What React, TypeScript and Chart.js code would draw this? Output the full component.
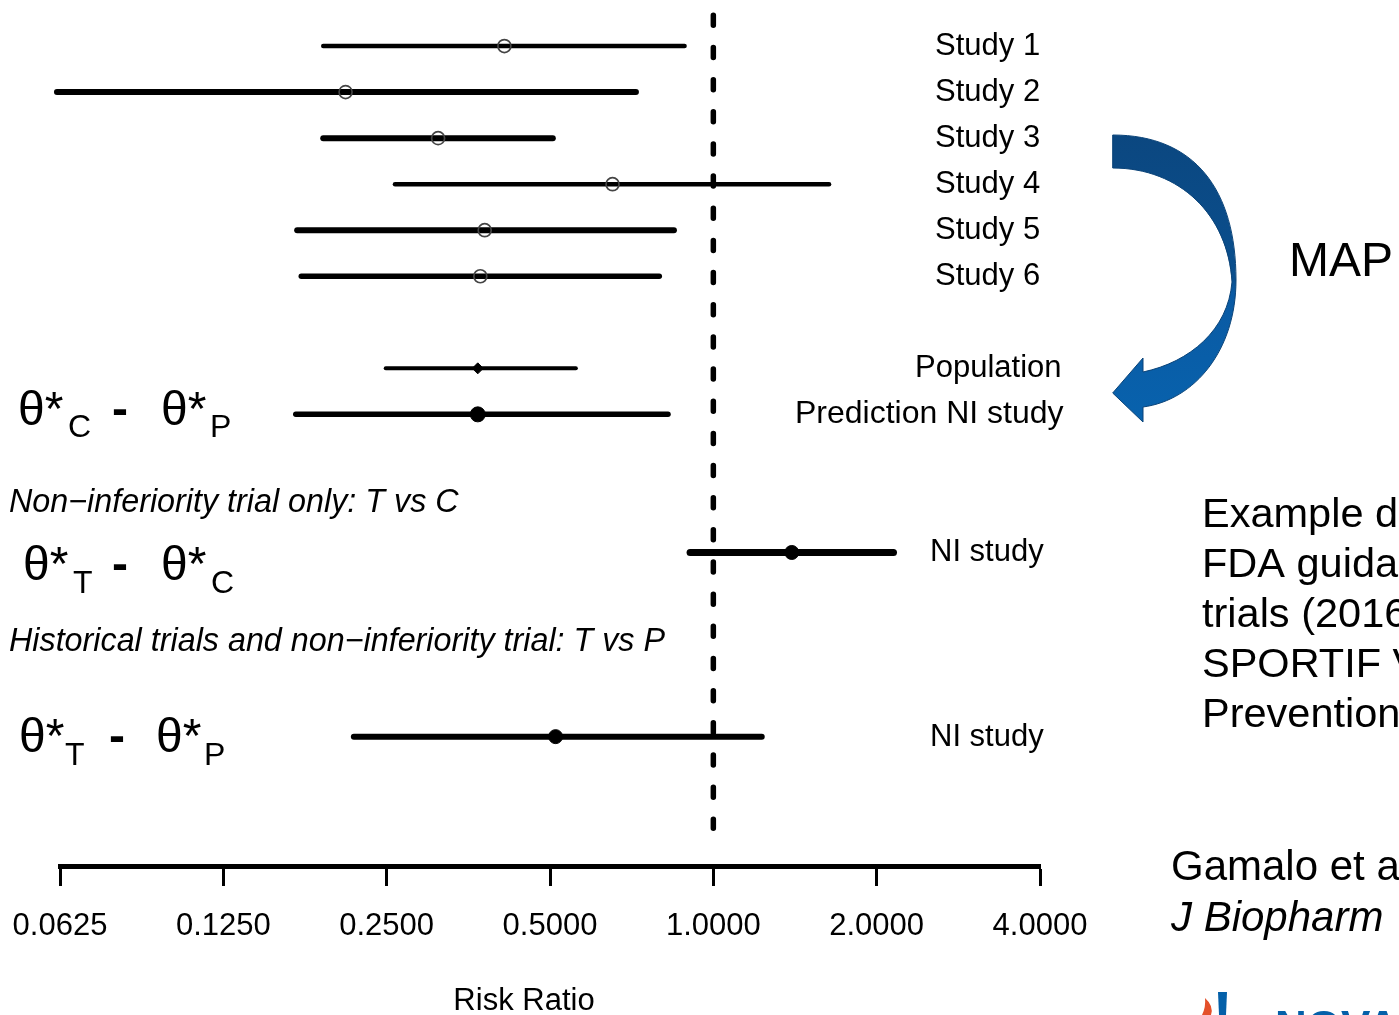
import { useEffect, useRef } from 'react';
import { Chart, registerables } from 'chart.js';

Chart.register(...registerables);

// ---------------- data ----------------
const LABELS = ['Study 1', 'Study 2', 'Study 3', 'Study 4', 'Study 5', 'Study 6', 'Population', 'Prediction NI study', 'NI study', 'NI study'];
const ROWS = [1, 2, 3, 4, 5, 6, 8, 9, 12, 16];
const ESTIMATE = [0.412, 0.21, 0.311, 0.652, 0.379, 0.372, 0.368, 0.368, 1.395, 0.512];
const LOWER = [0.191, 0.0617, 0.191, 0.259, 0.171, 0.174, 0.249, 0.17, 0.906, 0.2175];
const UPPER = [0.885, 0.72, 0.506, 1.634, 0.846, 0.795, 0.558, 0.825, 2.148, 1.228];
const X_TICKS = [0.0625, 0.125, 0.25, 0.5, 1, 2, 4];
const REFERENCE_RR = 1;
const REF_LINE_ROWS = [0.332, 17.99];

// ---------------- styles ----------------
const FONT = '"Liberation Sans", Arial, sans-serif';
const LINE_WIDTHS = [4.5, 6, 6, 4.5, 6, 5.5, 4, 5.5, 7, 6];
const MARKER_STYLES = ['circle', 'circle', 'circle', 'circle', 'circle', 'circle', 'rectRot', 'circle', 'circle', 'circle'];
const MARKER_RADII = [6.5, 6.5, 6.5, 6.5, 6.5, 6.5, 5.5, 7.5, 7, 7];
const MARKER_FILLS = ['rgba(0,0,0,0)', 'rgba(0,0,0,0)', 'rgba(0,0,0,0)', 'rgba(0,0,0,0)', 'rgba(0,0,0,0)', 'rgba(0,0,0,0)', '#000', '#000', '#000', '#000'];
const MARKER_BORDERS = ['#444', '#444', '#444', '#444', '#444', '#444', '#000', '#000', '#000', '#000'];
const MARKER_BORDER_WIDTHS = [1.7, 1.7, 1.7, 1.7, 1.7, 1.7, 1, 1, 1, 1];
const LABEL_X = [935, 935, 935, 935, 935, 935, 915, 795, 930, 930];
const LABEL_SIZES = [31, 31, 31, 31, 31, 31, 31, 32, 31, 31];
const LABEL_DY = 9;

type Part = { t: string; x: number; y: number; s: number; b?: boolean };
const EXPRESSIONS: Part[][] = [
  [
    { t: 'θ*', x: 18, y: 425, s: 48 },
    { t: 'C', x: 68, y: 437, s: 32 },
    { t: '-', x: 112, y: 425, s: 48, b: true },
    { t: 'θ*', x: 161, y: 425, s: 48 },
    { t: 'P', x: 210, y: 437, s: 32 },
  ],
  [
    { t: 'θ*', x: 23, y: 580, s: 48 },
    { t: 'T', x: 73, y: 593, s: 32 },
    { t: '-', x: 112, y: 580, s: 48, b: true },
    { t: 'θ*', x: 161, y: 580, s: 48 },
    { t: 'C', x: 211, y: 593, s: 32 },
  ],
  [
    { t: 'θ*', x: 19, y: 752, s: 48 },
    { t: 'T', x: 65, y: 765, s: 32 },
    { t: '-', x: 109, y: 752, s: 48, b: true },
    { t: 'θ*', x: 156, y: 752, s: 48 },
    { t: 'P', x: 204, y: 765, s: 32 },
  ],
];

const HEADINGS = [
  { t: 'Non\u2212inferiority trial only: T vs C', x: 9, y: 512 },
  { t: 'Historical trials and non\u2212inferiority trial: T vs P', x: 9, y: 651 },
];

const NOTE_LINES = ['Example drawn from', 'FDA guidance on NI', 'trials (2016):', 'SPORTIF V', 'Prevention of stroke'];

const overlayPlugin = {
  id: 'overlay',
  afterDraw(chart: any) {
    const ctx: CanvasRenderingContext2D = chart.ctx;
    const ys = chart.scales.y;
    ctx.save();
    ctx.fillStyle = '#000';
    ctx.textBaseline = 'alphabetic';
    ctx.textAlign = 'left';

    // row labels
    LABELS.forEach((lab, i) => {
      ctx.font = `${LABEL_SIZES[i]}px ${FONT}`;
      ctx.fillText(lab, LABEL_X[i], ys.getPixelForValue(ROWS[i]) + LABEL_DY);
    });

    // theta expressions
    EXPRESSIONS.forEach((parts) => {
      parts.forEach((p) => {
        ctx.font = `${p.b ? 'bold ' : ''}${p.s}px ${FONT}`;
        ctx.fillText(p.t, p.x, p.y);
      });
    });

    // italic headings
    ctx.font = `italic 32.3px ${FONT}`;
    HEADINGS.forEach((h) => ctx.fillText(h.t, h.x, h.y));

    // axis title
    ctx.font = `31px ${FONT}`;
    ctx.textAlign = 'center';
    ctx.fillText('Risk Ratio', 524, 1010);
    ctx.textAlign = 'left';

    // curved arrow
    const grad = ctx.createLinearGradient(0, 135, 0, 422);
    grad.addColorStop(0, '#0b4780');
    grad.addColorStop(0.5, '#0a4f8e');
    grad.addColorStop(0.55, '#0a5aa3');
    grad.addColorStop(1, '#0862ad');
    ctx.beginPath();
    ctx.moveTo(1112.7, 135);
    ctx.bezierCurveTo(1195, 135, 1236, 190, 1236, 280);
    ctx.bezierCurveTo(1236, 350, 1195, 400, 1143, 407);
    ctx.lineTo(1143, 422);
    ctx.lineTo(1112.7, 393);
    ctx.lineTo(1143, 358);
    ctx.lineTo(1143, 372);
    ctx.bezierCurveTo(1190, 362, 1228, 330, 1232, 282);
    ctx.bezierCurveTo(1228, 215, 1180, 168, 1112.7, 168);
    ctx.closePath();
    ctx.fillStyle = grad;
    ctx.fill();
    ctx.strokeStyle = '#0a4378';
    ctx.lineWidth = 1;
    ctx.stroke();

    // MAP
    ctx.fillStyle = '#000';
    ctx.font = `48px ${FONT}`;
    ctx.fillText('MAP', 1289, 276);

    // note text
    ctx.font = `41.5px ${FONT}`;
    NOTE_LINES.forEach((l, i) => ctx.fillText(l, 1202, 527 + i * 50));
    ctx.font = `42px ${FONT}`;
    ctx.fillText('Gamalo et al.', 1171, 880);
    ctx.font = `italic 42px ${FONT}`;
    ctx.fillText('J Biopharm', 1171, 931);

    // logo fragments
    ctx.fillStyle = '#e4502a';
    ctx.beginPath();
    ctx.moveTo(1205, 998);
    ctx.quadraticCurveTo(1214, 1006, 1211, 1015);
    ctx.lineTo(1202, 1015);
    ctx.quadraticCurveTo(1206, 1007, 1205, 998);
    ctx.closePath();
    ctx.fill();
    ctx.fillStyle = '#0460a9';
    ctx.beginPath();
    ctx.moveTo(1218, 992);
    ctx.lineTo(1227, 992);
    ctx.lineTo(1226, 1015);
    ctx.lineTo(1219, 1015);
    ctx.closePath();
    ctx.fill();
    ctx.font = `bold 44px ${FONT}`;
    ctx.fillText('NOVARTIS', 1275, 1042);
    ctx.restore();
  },
};

const zeroPadding = (s: any) => {
  s.paddingLeft = 0;
  s.paddingRight = 0;
  s.paddingTop = 0;
  s.paddingBottom = 0;
};

export default function App() {
  const ref = useRef<HTMLCanvasElement>(null);
  useEffect(() => {
    if (!ref.current) return;
    const errorSets = ROWS.map((r, i) => ({
      data: [
        { x: LOWER[i], y: r },
        { x: UPPER[i], y: r },
      ],
      showLine: true,
      borderColor: '#000',
      borderWidth: LINE_WIDTHS[i],
      borderCapStyle: 'round' as const,
      pointRadius: 0,
      clip: false as const,
    }));
    const chart = new Chart(ref.current, {
      type: 'scatter',
      data: {
        datasets: [
          {
            data: ESTIMATE.map((v, i) => ({ x: v, y: ROWS[i] })),
            pointStyle: MARKER_STYLES as any,
            pointRadius: MARKER_RADII,
            pointBackgroundColor: MARKER_FILLS,
            pointBorderColor: MARKER_BORDERS,
            pointBorderWidth: MARKER_BORDER_WIDTHS,
            clip: false as const,
          },
          ...errorSets,
          {
            data: [
              { x: REFERENCE_RR, y: REF_LINE_ROWS[0] },
              { x: REFERENCE_RR, y: REF_LINE_ROWS[1] },
            ],
            showLine: true,
            borderColor: '#000',
            borderWidth: 5.5,
            borderDash: [10, 22.16],
            borderCapStyle: 'round' as const,
            pointRadius: 0,
            clip: false as const,
          },
        ] as any,
      },
      options: {
        animation: false,
        responsive: false,
        events: [],
        layout: { padding: { left: 60, right: 359, top: 0, bottom: 0 } },
        plugins: { legend: { display: false }, tooltip: { enabled: false } },
        scales: {
          x: {
            type: 'logarithmic',
            min: 0.0625,
            max: 4,
            afterBuildTicks: (s: any) => {
              s.ticks = X_TICKS.map((v) => ({ value: v }));
            },
            afterFit: (s: any) => {
              s.height = 149;
              zeroPadding(s);
            },
            ticks: {
              callback: (v: any) => Number(v).toFixed(4),
              font: { size: 31, family: FONT },
              color: '#000',
              padding: 22,
              maxRotation: 0,
              autoSkip: false,
            },
            grid: {
              drawOnChartArea: false,
              drawTicks: true,
              tickLength: 20,
              tickWidth: 3,
              tickColor: '#000',
            },
            border: { display: true, width: 5, color: '#000' },
          },
          y: {
            type: 'linear',
            display: false,
            reverse: true,
            min: 0.184,
            max: 18.81,
            ticks: { display: false },
            afterFit: (s: any) => {
              s.width = 0;
              zeroPadding(s);
            },
          },
        },
      } as any,
      plugins: [overlayPlugin],
    });
    return () => chart.destroy();
  }, []);
  return (
    <div style={{ position: 'absolute', left: 0, top: 0, width: 1399, height: 1015, background: '#fff', overflow: 'hidden' }}>
      <canvas ref={ref} width={1399} height={1015} style={{ display: 'block', width: 1399, height: 1015 }} />
    </div>
  );
}
